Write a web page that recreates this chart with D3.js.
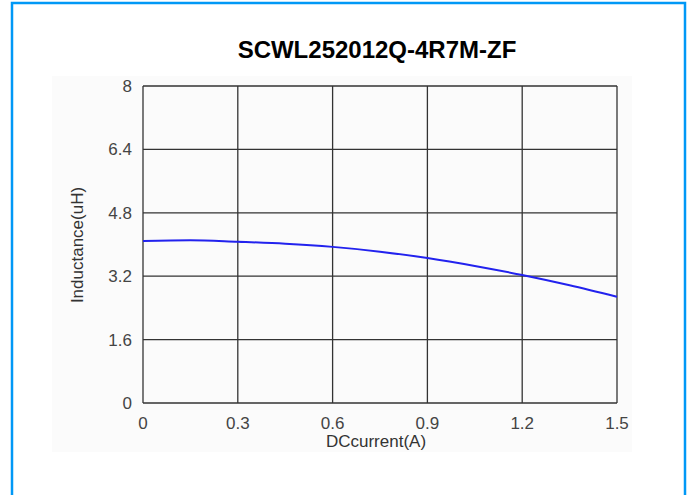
<!DOCTYPE html>
<html>
<head>
<meta charset="utf-8">
<script src="https://cdn.jsdelivr.net/npm/d3@7"></script>
<style>
  body { margin: 0; background: #fff; }
  text { font-family: "Liberation Sans", Arial, sans-serif; }
</style>
</head>
<body>
<svg width="687" height="495"></svg>
<script>
// values
var current = [0, 0.15, 0.3, 0.45, 0.6, 0.75, 0.9, 1.05, 1.2, 1.35, 1.5];
var inductance = [4.09, 4.11, 4.07, 4.02, 3.94, 3.82, 3.66, 3.46, 3.23, 2.97, 2.68];
var xTicks = [0, 0.3, 0.6, 0.9, 1.2, 1.5];
var yTicks = [0, 1.6, 3.2, 4.8, 6.4, 8];

var svg = d3.select("svg");

// blue frame round the whole picture
svg.append("path")
   .attr("d", "M12,500 L12,3 L685,3 L685,500")
   .attr("fill", "none")
   .attr("stroke", "#0098f6")
   .attr("stroke-width", 2.5);

// faint panel behind the chart
svg.append("rect")
   .attr("x", 52).attr("y", 76)
   .attr("width", 580).attr("height", 376)
   .attr("fill", "#fbfbfb");

var x = d3.scaleLinear().domain([0, 1.5]).range([143, 617]);
var y = d3.scaleLinear().domain([0, 8]).range([403, 86]);

// grid
svg.append("g")
   .selectAll("line")
   .data(xTicks)
   .enter()
   .append("line")
   .attr("x1", function(d){ return x(d); })
   .attr("x2", function(d){ return x(d); })
   .attr("y1", y(0))
   .attr("y2", y(8))
   .attr("stroke", "#333")
   .attr("stroke-width", 1.3);

svg.append("g")
   .selectAll("line")
   .data(yTicks)
   .enter()
   .append("line")
   .attr("x1", x(0))
   .attr("x2", x(1.5))
   .attr("y1", function(d){ return y(d); })
   .attr("y2", function(d){ return y(d); })
   .attr("stroke", "#333")
   .attr("stroke-width", 1.3);

// tick labels
svg.append("g")
   .selectAll("text")
   .data(xTicks)
   .enter()
   .append("text")
   .attr("x", function(d){ return x(d); })
   .attr("y", 429)
   .attr("text-anchor", "middle")
   .attr("font-size", 17)
   .attr("fill", "#444")
   .text(function(d){ return d; });

svg.append("g")
   .selectAll("text")
   .data(yTicks)
   .enter()
   .append("text")
   .attr("x", 132)
   .attr("y", function(d){ return y(d) + 6; })
   .attr("text-anchor", "end")
   .attr("font-size", 17)
   .attr("fill", "#444")
   .text(function(d){ return d; });

// curve
var line = d3.line()
   .x(function(d){ return x(d[0]); })
   .y(function(d){ return y(d[1]); })
   .curve(d3.curveMonotoneX);

svg.append("path")
   .datum(d3.zip(current, inductance))
   .attr("d", line)
   .attr("fill", "none")
   .attr("stroke", "#2222ee")
   .attr("stroke-width", 2);

// titles
svg.append("text")
   .attr("x", 377)
   .attr("y", 58)
   .attr("text-anchor", "middle")
   .attr("font-size", 24)
   .attr("font-weight", "bold")
   .attr("fill", "#000")
   .text("SCWL252012Q-4R7M-ZF");

svg.append("text")
   .attr("x", 376)
   .attr("y", 447)
   .attr("text-anchor", "middle")
   .attr("font-size", 17)
   .attr("fill", "#333")
   .text("DCcurrent(A)");

svg.append("text")
   .attr("transform", "translate(83,245) rotate(-90)")
   .attr("text-anchor", "middle")
   .attr("font-size", 17)
   .attr("fill", "#333")
   .text("Inductance(uH)");
</script>
</body>
</html>
